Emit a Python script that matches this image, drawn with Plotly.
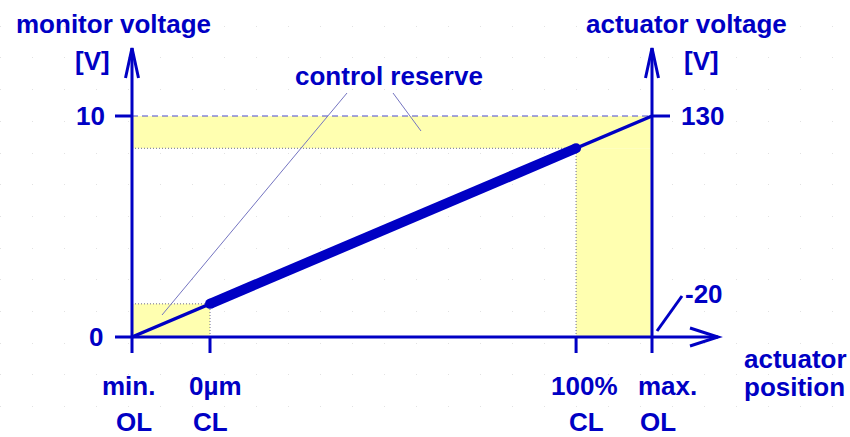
import plotly.graph_objects as go

# ---------------- data ----------------
position_top_labels = ["min.", "0µm", "100%", "max."]
position_bottom_labels = ["OL", "CL", "CL", "OL"]
position_values = [0.0, 0.15, 0.854, 1.0]        # relative actuator position
monitor_line_x = [0.0, 1.0]
monitor_line_y = [0.0, 10.0]                     # monitor voltage [V]
closed_loop_x = [0.15, 0.854]
closed_loop_y = [1.5, 8.54]
monitor_ticks = [0, 10]
monitor_tick_labels = ["0", "10"]
actuator_tick_labels = ["-20", "130"]

# ---------------- layout helpers ----------------
W, H = 850, 437
X0_PX, X1_PX = 132, 652       # pixel of position 0 and 1
Y0_PX, Y10_PX = 337, 116      # pixel of 0 V and 10 V


def dx(p):
    return (p - X0_PX) / (X1_PX - X0_PX)


def dy(p):
    return (Y0_PX - p) / (Y0_PX - Y10_PX) * 10.0


BLUE = "#0000c4"
YELLOW = "#ffffb0"
FONT = "Liberation Sans, Arial, sans-serif"
FS = 26

fig = go.Figure()

# main characteristic line
fig.add_trace(go.Scatter(x=monitor_line_x, y=monitor_line_y, mode="lines",
                         line=dict(color=BLUE, width=3.5), hoverinfo="skip"))
# closed loop range (thick)
fig.add_trace(go.Scatter(x=closed_loop_x, y=closed_loop_y, mode="lines+markers",
                         line=dict(color=BLUE, width=10),
                         marker=dict(color=BLUE, size=10), hoverinfo="skip"))

shapes = []
# yellow control reserve areas
shapes.append(dict(type="rect", x0=position_values[0], x1=position_values[3],
                   y0=closed_loop_y[1], y1=monitor_ticks[1],
                   fillcolor=YELLOW, line_width=0, layer="between"))
shapes.append(dict(type="rect", x0=closed_loop_x[1], x1=position_values[3],
                   y0=monitor_ticks[0], y1=closed_loop_y[1],
                   fillcolor=YELLOW, line_width=0, layer="between"))
shapes.append(dict(type="rect", x0=position_values[0], x1=closed_loop_x[0],
                   y0=monitor_ticks[0], y1=closed_loop_y[0],
                   fillcolor=YELLOW, line_width=0, layer="between"))

# dashed line at 10 V
shapes.append(dict(type="line", x0=0, x1=1, y0=monitor_ticks[1], y1=monitor_ticks[1],
                   line=dict(color="#4848d0", width=1, dash="6px,4px"), layer="between"))
# dotted helper lines
dot = dict(color="#6a6a90", width=1, dash="1px,2px")
shapes.append(dict(type="line", x0=0, x1=closed_loop_x[1], y0=closed_loop_y[1], y1=closed_loop_y[1],
                   line=dot, layer="between"))
shapes.append(dict(type="line", x0=closed_loop_x[1], x1=closed_loop_x[1], y0=0, y1=closed_loop_y[1],
                   line=dot, layer="between"))
shapes.append(dict(type="line", x0=0, x1=closed_loop_x[0], y0=closed_loop_y[0], y1=closed_loop_y[0],
                   line=dot, layer="between"))
shapes.append(dict(type="line", x0=closed_loop_x[0], x1=closed_loop_x[0], y0=0, y1=closed_loop_y[0],
                   line=dot, layer="between"))

# leader lines from "control reserve"
lead = dict(color="#7474c0", width=1)
shapes.append(dict(type="line", x0=dx(347), y0=dy(93), x1=dx(162), y1=dy(315), line=lead))
shapes.append(dict(type="line", x0=dx(393), y0=dy(93), x1=dx(421), y1=dy(131), line=lead))

ax = dict(color=BLUE, width=3)
# x axis with arrow
shapes.append(dict(type="line", x0=dx(115), x1=dx(718), y0=0, y1=0, line=ax))
shapes.append(dict(type="path", path=f"M {dx(690)},{dy(328)} L {dx(718)},{dy(337)} L {dx(690)},{dy(346)}",
                   line=ax))
# left and right vertical axes with arrows
for xv in (position_values[0], position_values[3]):
    xp = X0_PX + xv * (X1_PX - X0_PX)
    shapes.append(dict(type="line", x0=xv, x1=xv, y0=dy(353), y1=dy(48), line=ax))
    shapes.append(dict(type="path",
                       path=f"M {dx(xp - 6.5)},{dy(78)} L {xv},{dy(48)} L {dx(xp + 6.5)},{dy(78)}",
                       line=ax))
# x ticks
for xv in position_values[1:3]:
    shapes.append(dict(type="line", x0=xv, x1=xv, y0=0, y1=dy(353), line=ax))
# y ticks at 10 V
shapes.append(dict(type="line", x0=dx(115), x1=0, y0=monitor_ticks[1], y1=monitor_ticks[1], line=ax))
shapes.append(dict(type="line", x0=1, x1=dx(670), y0=monitor_ticks[1], y1=monitor_ticks[1], line=ax))
# -20 pointer
shapes.append(dict(type="line", x0=dx(657), y0=dy(331), x1=dx(682), y1=dy(296), line=ax))

annotations = []


def txt(s, x, y, xanchor="center"):
    annotations.append(dict(text=f"<b>{s}</b>", x=x, y=y, xref="x", yref="y",
                            showarrow=False, xanchor=xanchor, yanchor="middle",
                            font=dict(family=FONT, size=FS, color=BLUE)))


txt("monitor voltage", dx(113), dy(24))
txt("[V]", dx(92), dy(61))
txt(monitor_tick_labels[1], dx(90), monitor_ticks[1])
txt(monitor_tick_labels[0], dx(96), monitor_ticks[0])
txt("actuator voltage", dx(686), dy(24))
txt("[V]", dx(701), dy(61))
txt(actuator_tick_labels[1], dx(702), monitor_ticks[1])
txt(actuator_tick_labels[0], dx(704), dy(294))
txt("control reserve", dx(389), dy(76))
txt("actuator", dx(742), dy(359), xanchor="left")
txt("position", dx(742), dy(387), xanchor="left")

top_shift = [-4, 5, 8, 15]
bot_shift = [2, 0, 10, 6]
for v, t, b, ts, bs in zip(position_values, position_top_labels, position_bottom_labels,
                           top_shift, bot_shift):
    xp = X0_PX + v * (X1_PX - X0_PX)
    txt(t, dx(xp + ts), dy(386))
    txt(b, dx(xp + bs), dy(422))

fig.update_layout(
    width=W, height=H,
    margin=dict(l=0, r=0, t=0, b=0),
    paper_bgcolor="white", plot_bgcolor="white",
    showlegend=False,
    shapes=shapes,
    annotations=annotations,
    xaxis=dict(range=[dx(0), dx(W)], showgrid=False, zeroline=False,
               showticklabels=False, ticks="", showline=False, fixedrange=True),
    yaxis=dict(range=[dy(H), dy(0)], showgrid=True, zeroline=False,
               tick0=dy(153), dtick=31.7 / (Y0_PX - Y10_PX) * 10.0,
               gridcolor="#e2e2e2", gridwidth=1, griddash="1px,31px",
               showticklabels=False, ticks="", showline=False, fixedrange=True),
)

fig.write_html("out.html",
               config={"displayModeBar": False},
               post_script="document.body.style.margin='0';document.body.style.overflow='hidden';")
